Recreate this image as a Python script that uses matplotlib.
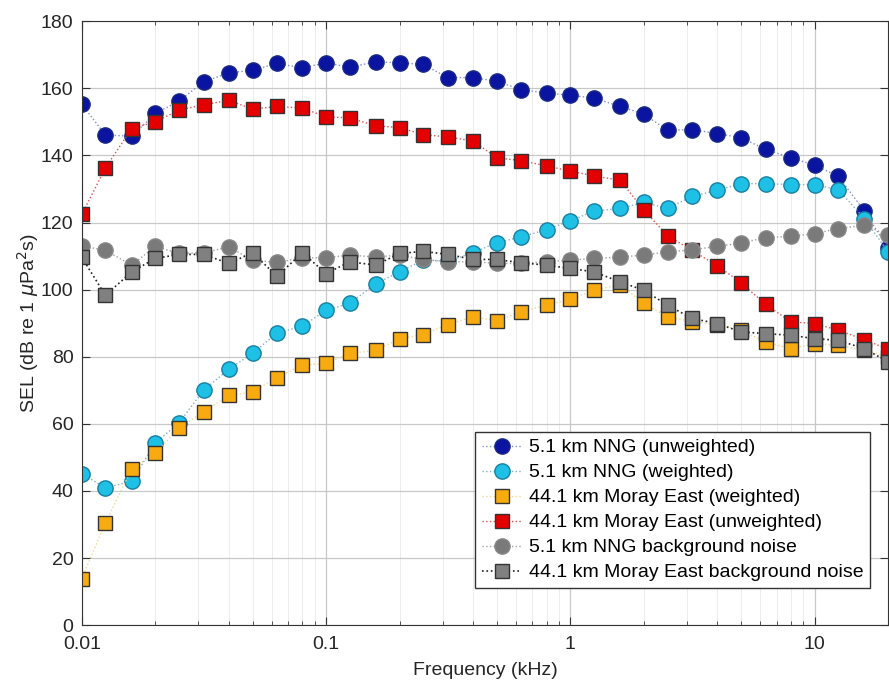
import numpy as np
import matplotlib.pyplot as plt

plt.rcParams['font.family'] = ['Liberation Sans', 'DejaVu Sans']

# third-octave band centre frequencies (kHz)
freq = [0.01, 0.0125, 0.016, 0.02, 0.025, 0.0315, 0.04, 0.05, 0.063, 0.08,
        0.1, 0.125, 0.16, 0.2, 0.25, 0.315, 0.4, 0.5, 0.63, 0.8,
        1.0, 1.25, 1.6, 2.0, 2.5, 3.15, 4.0, 5.0, 6.3, 8.0,
        10.0, 12.5, 16.0, 20.0]

nng_unweighted = [155.2, 146.1, 145.7, 152.5, 156.2, 161.9, 164.6, 165.4, 167.4, 166.1,
                  167.6, 166.3, 167.9, 167.6, 167.1, 163.2, 163.2, 162.1, 159.6, 158.6,
                  157.9, 157.1, 154.6, 152.3, 147.5, 147.7, 146.5, 145.3, 141.8, 139.3,
                  137.1, 133.8, 123.4, 112.3]
nng_weighted = [45.2, 40.9, 42.9, 54.3, 60.3, 70.0, 76.3, 81.0, 87.1, 89.1,
                93.9, 95.9, 101.8, 105.3, 108.8, 108.5, 111.0, 114.0, 115.7, 117.9,
                120.5, 123.4, 124.2, 126.0, 124.2, 127.8, 129.6, 131.6, 131.6, 131.3,
                131.3, 129.8, 121.2, 111.2]
moray_weighted = [13.9, 30.6, 46.4, 51.2, 58.8, 63.6, 68.5, 69.5, 73.8, 77.5,
                  78.0, 81.0, 81.9, 85.4, 86.6, 89.6, 91.9, 90.7, 93.4, 95.4,
                  97.1, 99.8, 101.5, 95.9, 91.9, 90.5, 89.5, 88.0, 84.4, 82.4,
                  83.9, 83.4, 82.0, 80.0]
moray_unweighted = [122.4, 136.3, 148.0, 150.0, 153.5, 155.1, 156.4, 153.8, 154.6, 154.1,
                    151.5, 151.2, 148.8, 148.3, 146.2, 145.5, 144.3, 139.3, 138.4, 136.9,
                    135.3, 133.9, 132.6, 123.7, 116.1, 111.7, 107.1, 102.1, 95.6, 90.4,
                    89.9, 87.9, 85.1, 82.2]
nng_background = [113.0, 111.7, 107.3, 112.9, 110.8, 111.0, 112.7, 108.8, 108.1, 109.5,
                  109.5, 110.3, 109.7, 110.3, 109.0, 108.3, 108.3, 107.8, 107.8, 108.3,
                  108.8, 109.3, 109.7, 110.3, 111.2, 111.9, 112.9, 113.9, 115.5, 115.9,
                  116.7, 118.2, 119.2, 116.2]
moray_background = [109.6, 98.3, 105.3, 109.3, 110.5, 110.5, 107.8, 111.0, 104.0, 111.0,
                    104.8, 108.3, 107.3, 110.8, 111.4, 110.5, 109.0, 109.0, 108.0, 107.3,
                    106.3, 105.3, 102.3, 99.8, 95.4, 91.4, 89.9, 87.4, 86.9, 86.4,
                    85.4, 84.9, 82.4, 78.5]

fig = plt.figure(figsize=(8.89, 6.84), dpi=100)
ax = fig.add_axes([0.092, 0.086, 0.907, 0.883])

ax.grid(True, which='major', color='#c8c8c8', linewidth=0.9)
ax.grid(True, which='minor', color='#ececec', linewidth=0.7)

ms_c = 11
ms_s = 10
ax.plot(freq, nng_unweighted, ':', color='#7f8fc8', lw=1.0, marker='o', ms=ms_c,
        mfc='#0a14a0', mec='#1a2a80', label='5.1 km NNG (unweighted)')
ax.plot(freq, nng_weighted, ':', color='#7fb0c8', lw=1.0, marker='o', ms=ms_c,
        mfc='#1ec0e6', mec='#1a7fa0', label='5.1 km NNG (weighted)')
ax.plot(freq, moray_weighted, ':', color='#f0d890', lw=1.0, marker='s', ms=ms_s,
        mfc='#f7ab10', mec='#333333', label='44.1 km Moray East (weighted)')
ax.plot(freq, moray_unweighted, ':', color='#e05050', lw=1.0, marker='s', ms=ms_s,
        mfc='#e40000', mec='#333333', label='44.1 km Moray East (unweighted)')
ax.plot(freq, nng_background, ':', color='#a0a0a0', lw=1.0, marker='o', ms=ms_c,
        mfc='#7a7a7a', mec='#888888', label='5.1 km NNG background noise')
ax.plot(freq, moray_background, ':', color='#222222', lw=1.2, marker='s', ms=ms_s,
        mfc='#808080', mec='#333333', label='44.1 km Moray East background noise')

ax.set_xscale('log')
ax.set_xlim(0.01, 20)
ax.set_ylim(0, 180)
ax.set_yticks(np.arange(0, 181, 20))
ax.set_xticks([0.01, 0.1, 1, 10])
ax.set_xticklabels(['0.01', '0.1', '1', '10'])
ax.tick_params(which='both', direction='in', top=True, right=True, labelsize=14,
               colors='#333333', labelcolor='#262626')
ax.tick_params(axis='x', pad=8)
ax.tick_params(axis='y', pad=6)
ax.tick_params(which='major', length=6)
ax.tick_params(which='minor', length=3)
for s in ax.spines.values():
    s.set_color('#333333')

ax.set_xlabel('Frequency (kHz)', fontsize=14, color='#262626', labelpad=6)
ax.set_ylabel(r'SEL (dB re 1 $\mu$Pa$^2$s)', fontsize=14, color='#262626', labelpad=0)

leg = ax.legend(loc='lower right', fontsize=14, frameon=True, fancybox=False,
                edgecolor='#333333', framealpha=1, borderpad=0.35, labelspacing=0.38,
                handlelength=2.0, handletextpad=0.4, bbox_to_anchor=(0.99, 0.045))

fig.savefig('out.png', dpi=100)
